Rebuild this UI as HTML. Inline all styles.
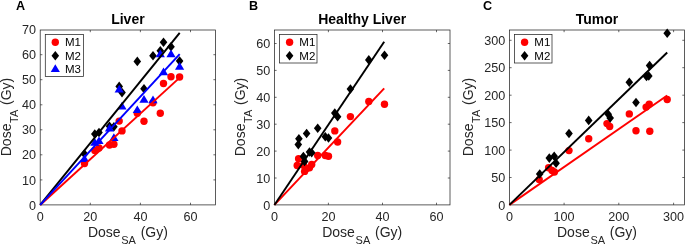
<!DOCTYPE html>
<html><head><meta charset="utf-8"><title>Dose plots</title>
<style>html,body{margin:0;padding:0;background:#fff}svg{display:block}text{font-family:'Liberation Sans', sans-serif}</style>
</head><body>
<svg width="685" height="245" viewBox="0 0 685 245">
<rect width="685" height="245" fill="#fff"/>
<g>
<text x="16.0" y="9.7" font-size="12.6" font-weight="bold" fill="#000">A</text>
<text x="127.9" y="24" font-size="14" font-weight="bold" text-anchor="middle" fill="#000">Liver</text>
<rect x="40.2" y="30.0" width="175.4" height="174.9" fill="none" stroke="#262626" stroke-width="0.75"/>
<text x="40.2" y="221.0" font-size="12.6" text-anchor="middle" fill="#262626">0</text>
<text x="90.3" y="221.0" font-size="12.6" text-anchor="middle" fill="#262626">20</text>
<text x="140.4" y="221.0" font-size="12.6" text-anchor="middle" fill="#262626">40</text>
<text x="190.5" y="221.0" font-size="12.6" text-anchor="middle" fill="#262626">60</text>
<text x="36.1" y="209.5" font-size="12.6" text-anchor="end" fill="#262626">0</text>
<text x="36.1" y="184.5" font-size="12.6" text-anchor="end" fill="#262626">10</text>
<text x="36.1" y="159.4" font-size="12.6" text-anchor="end" fill="#262626">20</text>
<text x="36.1" y="134.4" font-size="12.6" text-anchor="end" fill="#262626">30</text>
<text x="36.1" y="109.4" font-size="12.6" text-anchor="end" fill="#262626">40</text>
<text x="36.1" y="84.3" font-size="12.6" text-anchor="end" fill="#262626">50</text>
<text x="36.1" y="59.3" font-size="12.6" text-anchor="end" fill="#262626">60</text>
<text x="36.1" y="34.2" font-size="12.6" text-anchor="end" fill="#262626">70</text>
<path d="M90.3 204.92v-2.2M90.3 30.0v2.2M140.4 204.92v-2.2M140.4 30.0v2.2M190.5 204.92v-2.2M190.5 30.0v2.2M40.2 179.9h2.2M215.6 179.9h-2.2M40.2 154.8h2.2M215.6 154.8h-2.2M40.2 129.8h2.2M215.6 129.8h-2.2M40.2 104.8h2.2M215.6 104.8h-2.2M40.2 79.7h2.2M215.6 79.7h-2.2M40.2 54.7h2.2M215.6 54.7h-2.2" stroke="#262626" stroke-width="0.7" fill="none"/>
<text x="127.9" y="237.1" font-size="14" text-anchor="middle" fill="#262626">Dose<tspan font-size="11" dy="7" dx="0.7">SA</tspan><tspan dy="-7" dx="0.8"> (Gy)</tspan></text>
<text transform="translate(10.8 117.0) rotate(-90)" font-size="14" text-anchor="middle" fill="#262626">Dose<tspan font-size="11" dy="7" dx="0.7">TA</tspan><tspan dy="-7" dx="0.8"> (Gy)</tspan></text>
<circle cx="84.5" cy="163.5" r="3.7" fill="#ff0000"/>
<circle cx="94.8" cy="150.4" r="3.7" fill="#ff0000"/>
<circle cx="99.0" cy="148.0" r="3.7" fill="#ff0000"/>
<circle cx="109.5" cy="145.0" r="3.7" fill="#ff0000"/>
<circle cx="113.9" cy="144.3" r="3.7" fill="#ff0000"/>
<circle cx="119.2" cy="121.1" r="3.7" fill="#ff0000"/>
<circle cx="122.0" cy="130.9" r="3.7" fill="#ff0000"/>
<circle cx="137.3" cy="113.3" r="3.7" fill="#ff0000"/>
<circle cx="144.0" cy="121.3" r="3.7" fill="#ff0000"/>
<circle cx="153.0" cy="102.7" r="3.7" fill="#ff0000"/>
<circle cx="160.3" cy="113.3" r="3.7" fill="#ff0000"/>
<circle cx="163.5" cy="83.5" r="3.7" fill="#ff0000"/>
<circle cx="171.0" cy="76.7" r="3.7" fill="#ff0000"/>
<circle cx="179.6" cy="77.0" r="3.7" fill="#ff0000"/>
<polygon points="84.5,149.2 88.3,154.0 84.5,158.8 80.7,154.0" fill="#000"/>
<polygon points="94.8,129.2 98.6,134.0 94.8,138.8 91.0,134.0" fill="#000"/>
<polygon points="99.0,127.7 102.8,132.5 99.0,137.3 95.2,132.5" fill="#000"/>
<polygon points="109.5,121.5 113.3,126.3 109.5,131.1 105.7,126.3" fill="#000"/>
<polygon points="113.9,122.0 117.7,126.8 113.9,131.6 110.1,126.8" fill="#000"/>
<polygon points="119.2,81.6 123.0,86.4 119.2,91.2 115.4,86.4" fill="#000"/>
<polygon points="122.0,87.8 125.8,92.6 122.0,97.4 118.2,92.6" fill="#000"/>
<polygon points="137.3,56.6 141.1,61.4 137.3,66.2 133.5,61.4" fill="#000"/>
<polygon points="144.0,84.0 147.8,88.8 144.0,93.6 140.2,88.8" fill="#000"/>
<polygon points="153.0,50.9 156.8,55.7 153.0,60.5 149.2,55.7" fill="#000"/>
<polygon points="160.3,46.0 164.1,50.8 160.3,55.6 156.5,50.8" fill="#000"/>
<polygon points="163.5,37.4 167.3,42.2 163.5,47.0 159.7,42.2" fill="#000"/>
<polygon points="171.0,41.9 174.8,46.7 171.0,51.5 167.2,46.7" fill="#000"/>
<polygon points="179.6,56.2 183.4,61.0 179.6,65.8 175.8,61.0" fill="#000"/>
<polygon points="84.5,154.4 89.1,162.1 79.9,162.1" fill="#0000ff"/>
<polygon points="94.8,138.0 99.4,145.7 90.2,145.7" fill="#0000ff"/>
<polygon points="99.0,136.4 103.6,144.1 94.4,144.1" fill="#0000ff"/>
<polygon points="109.5,123.8 114.1,131.5 104.9,131.5" fill="#0000ff"/>
<polygon points="113.9,133.3 118.5,141.0 109.3,141.0" fill="#0000ff"/>
<polygon points="119.2,84.7 123.8,92.4 114.6,92.4" fill="#0000ff"/>
<polygon points="122.0,101.8 126.6,109.5 117.4,109.5" fill="#0000ff"/>
<polygon points="137.3,105.4 141.9,113.1 132.7,113.1" fill="#0000ff"/>
<polygon points="144.0,95.1 148.6,102.8 139.4,102.8" fill="#0000ff"/>
<polygon points="153.0,95.6 157.6,103.3 148.4,103.3" fill="#0000ff"/>
<polygon points="160.3,49.6 164.9,57.3 155.7,57.3" fill="#0000ff"/>
<polygon points="163.5,67.6 168.1,75.3 158.9,75.3" fill="#0000ff"/>
<polygon points="171.0,49.6 175.6,57.3 166.4,57.3" fill="#0000ff"/>
<polygon points="179.6,62.1 184.2,69.8 175.0,69.8" fill="#0000ff"/>
<line x1="40.2" y1="204.92" x2="179.7" y2="77.6" stroke="#ff0000" stroke-width="1.95"/>
<line x1="40.2" y1="204.92" x2="179.7" y2="32.8" stroke="#000" stroke-width="1.95"/>
<line x1="40.2" y1="204.92" x2="179.7" y2="54.2" stroke="#0000ff" stroke-width="1.95"/>
<rect x="45.3" y="34.6" width="38.3" height="41.8" fill="#fff" stroke="#262626" stroke-width="0.75"/>
<circle cx="55.3" cy="42.2" r="3.7" fill="#ff0000"/>
<text x="65.0" y="46.2" font-size="11.5" fill="#000">M1</text>
<polygon points="55.3,50.9 59.1,55.7 55.3,60.5 51.5,55.7" fill="#000"/>
<text x="65.0" y="59.7" font-size="11.5" fill="#000">M2</text>
<polygon points="55.3,64.3 59.9,72.0 50.7,72.0" fill="#0000ff"/>
<text x="65.0" y="73.1" font-size="11.5" fill="#000">M3</text>
</g>
<g>
<text x="249.0" y="9.7" font-size="12.6" font-weight="bold" fill="#000">B</text>
<text x="362.2" y="24" font-size="14" font-weight="bold" text-anchor="middle" fill="#000">Healthy Liver</text>
<rect x="274.4" y="30.0" width="175.6" height="174.9" fill="none" stroke="#262626" stroke-width="0.75"/>
<text x="274.4" y="221.0" font-size="12.6" text-anchor="middle" fill="#262626">0</text>
<text x="328.4" y="221.0" font-size="12.6" text-anchor="middle" fill="#262626">20</text>
<text x="382.5" y="221.0" font-size="12.6" text-anchor="middle" fill="#262626">40</text>
<text x="436.5" y="221.0" font-size="12.6" text-anchor="middle" fill="#262626">60</text>
<text x="270.3" y="209.5" font-size="12.6" text-anchor="end" fill="#262626">0</text>
<text x="270.3" y="182.6" font-size="12.6" text-anchor="end" fill="#262626">10</text>
<text x="270.3" y="155.7" font-size="12.6" text-anchor="end" fill="#262626">20</text>
<text x="270.3" y="128.8" font-size="12.6" text-anchor="end" fill="#262626">30</text>
<text x="270.3" y="101.9" font-size="12.6" text-anchor="end" fill="#262626">40</text>
<text x="270.3" y="75.0" font-size="12.6" text-anchor="end" fill="#262626">50</text>
<text x="270.3" y="48.1" font-size="12.6" text-anchor="end" fill="#262626">60</text>
<path d="M328.4 204.92v-2.2M328.4 30.0v2.2M382.5 204.92v-2.2M382.5 30.0v2.2M436.5 204.92v-2.2M436.5 30.0v2.2M274.4 178.0h2.2M450.0 178.0h-2.2M274.4 151.1h2.2M450.0 151.1h-2.2M274.4 124.2h2.2M450.0 124.2h-2.2M274.4 97.3h2.2M450.0 97.3h-2.2M274.4 70.4h2.2M450.0 70.4h-2.2M274.4 43.5h2.2M450.0 43.5h-2.2" stroke="#262626" stroke-width="0.7" fill="none"/>
<text x="362.2" y="237.1" font-size="14" text-anchor="middle" fill="#262626">Dose<tspan font-size="11" dy="7" dx="0.7">SA</tspan><tspan dy="-7" dx="0.8"> (Gy)</tspan></text>
<text transform="translate(245.0 117.0) rotate(-90)" font-size="14" text-anchor="middle" fill="#262626">Dose<tspan font-size="11" dy="7" dx="0.7">TA</tspan><tspan dy="-7" dx="0.8"> (Gy)</tspan></text>
<circle cx="297.2" cy="165.5" r="3.7" fill="#ff0000"/>
<circle cx="298.6" cy="158.8" r="3.7" fill="#ff0000"/>
<circle cx="303.4" cy="165.3" r="3.7" fill="#ff0000"/>
<circle cx="304.6" cy="171.4" r="3.7" fill="#ff0000"/>
<circle cx="306.6" cy="168.6" r="3.7" fill="#ff0000"/>
<circle cx="309.5" cy="167.8" r="3.7" fill="#ff0000"/>
<circle cx="311.7" cy="164.5" r="3.7" fill="#ff0000"/>
<circle cx="317.7" cy="155.5" r="3.7" fill="#ff0000"/>
<circle cx="325.3" cy="155.5" r="3.7" fill="#ff0000"/>
<circle cx="328.5" cy="156.2" r="3.7" fill="#ff0000"/>
<circle cx="334.8" cy="130.9" r="3.7" fill="#ff0000"/>
<circle cx="337.6" cy="142.0" r="3.7" fill="#ff0000"/>
<circle cx="350.4" cy="116.6" r="3.7" fill="#ff0000"/>
<circle cx="368.8" cy="101.4" r="3.7" fill="#ff0000"/>
<circle cx="384.5" cy="104.3" r="3.7" fill="#ff0000"/>
<polygon points="298.3,139.8 302.1,144.6 298.3,149.4 294.5,144.6" fill="#000"/>
<polygon points="298.9,134.0 302.7,138.8 298.9,143.6 295.1,138.8" fill="#000"/>
<polygon points="303.4,151.7 307.2,156.5 303.4,161.3 299.6,156.5" fill="#000"/>
<polygon points="304.6,156.6 308.4,161.4 304.6,166.2 300.8,161.4" fill="#000"/>
<polygon points="306.6,128.7 310.4,133.5 306.6,138.3 302.8,133.5" fill="#000"/>
<polygon points="309.5,147.2 313.3,152.0 309.5,156.8 305.7,152.0" fill="#000"/>
<polygon points="311.7,147.9 315.5,152.7 311.7,157.5 307.9,152.7" fill="#000"/>
<polygon points="317.7,123.5 321.5,128.3 317.7,133.1 313.9,128.3" fill="#000"/>
<polygon points="325.3,131.9 329.1,136.7 325.3,141.5 321.5,136.7" fill="#000"/>
<polygon points="328.5,133.2 332.3,138.0 328.5,142.8 324.7,138.0" fill="#000"/>
<polygon points="334.8,108.3 338.6,113.1 334.8,117.9 331.0,113.1" fill="#000"/>
<polygon points="337.6,111.9 341.4,116.7 337.6,121.5 333.8,116.7" fill="#000"/>
<polygon points="350.4,84.2 354.2,89.0 350.4,93.8 346.6,89.0" fill="#000"/>
<polygon points="368.8,55.1 372.6,59.9 368.8,64.7 365.0,59.9" fill="#000"/>
<polygon points="384.5,50.4 388.3,55.2 384.5,60.0 380.7,55.2" fill="#000"/>
<line x1="274.4" y1="204.92" x2="384.2" y2="88.4" stroke="#ff0000" stroke-width="1.95"/>
<line x1="274.4" y1="204.92" x2="384.2" y2="41.8" stroke="#000" stroke-width="1.95"/>
<rect x="279.6" y="34.6" width="37.4" height="28.4" fill="#fff" stroke="#262626" stroke-width="0.75"/>
<circle cx="289.6" cy="42.2" r="3.7" fill="#ff0000"/>
<text x="299.3" y="46.2" font-size="11.5" fill="#000">M1</text>
<polygon points="289.6,50.9 293.4,55.7 289.6,60.5 285.8,55.7" fill="#000"/>
<text x="299.3" y="59.7" font-size="11.5" fill="#000">M2</text>
</g>
<g>
<text x="483.0" y="9.7" font-size="12.6" font-weight="bold" fill="#000">C</text>
<text x="597.0" y="24" font-size="14" font-weight="bold" text-anchor="middle" fill="#000">Tumor</text>
<rect x="509.4" y="30.0" width="175.1" height="174.9" fill="none" stroke="#262626" stroke-width="0.75"/>
<text x="509.4" y="221.0" font-size="12.6" text-anchor="middle" fill="#262626">0</text>
<text x="564.1" y="221.0" font-size="12.6" text-anchor="middle" fill="#262626">100</text>
<text x="618.8" y="221.0" font-size="12.6" text-anchor="middle" fill="#262626">200</text>
<text x="673.6" y="221.0" font-size="12.6" text-anchor="middle" fill="#262626">300</text>
<text x="505.3" y="209.5" font-size="12.6" text-anchor="end" fill="#262626">0</text>
<text x="505.3" y="182.1" font-size="12.6" text-anchor="end" fill="#262626">50</text>
<text x="505.3" y="154.7" font-size="12.6" text-anchor="end" fill="#262626">100</text>
<text x="505.3" y="127.2" font-size="12.6" text-anchor="end" fill="#262626">150</text>
<text x="505.3" y="99.8" font-size="12.6" text-anchor="end" fill="#262626">200</text>
<text x="505.3" y="72.3" font-size="12.6" text-anchor="end" fill="#262626">250</text>
<text x="505.3" y="44.9" font-size="12.6" text-anchor="end" fill="#262626">300</text>
<path d="M564.1 204.92v-2.2M564.1 30.0v2.2M618.8 204.92v-2.2M618.8 30.0v2.2M673.6 204.92v-2.2M673.6 30.0v2.2M509.4 177.5h2.2M684.5 177.5h-2.2M509.4 150.1h2.2M684.5 150.1h-2.2M509.4 122.6h2.2M684.5 122.6h-2.2M509.4 95.2h2.2M684.5 95.2h-2.2M509.4 67.7h2.2M684.5 67.7h-2.2M509.4 40.3h2.2M684.5 40.3h-2.2" stroke="#262626" stroke-width="0.7" fill="none"/>
<text x="597.0" y="237.1" font-size="14" text-anchor="middle" fill="#262626">Dose<tspan font-size="11" dy="7" dx="0.7">SA</tspan><tspan dy="-7" dx="0.8"> (Gy)</tspan></text>
<text transform="translate(472.9 117.0) rotate(-90)" font-size="14" text-anchor="middle" fill="#262626">Dose<tspan font-size="11" dy="7" dx="0.7">TA</tspan><tspan dy="-7" dx="0.8"> (Gy)</tspan></text>
<circle cx="539.2" cy="179.6" r="3.7" fill="#ff0000"/>
<circle cx="548.6" cy="167.8" r="3.7" fill="#ff0000"/>
<circle cx="552.0" cy="170.5" r="3.7" fill="#ff0000"/>
<circle cx="554.4" cy="172.0" r="3.7" fill="#ff0000"/>
<circle cx="569.0" cy="150.6" r="3.7" fill="#ff0000"/>
<circle cx="588.7" cy="138.8" r="3.7" fill="#ff0000"/>
<circle cx="607.0" cy="123.6" r="3.7" fill="#ff0000"/>
<circle cx="609.7" cy="126.5" r="3.7" fill="#ff0000"/>
<circle cx="629.3" cy="113.9" r="3.7" fill="#ff0000"/>
<circle cx="636.0" cy="130.7" r="3.7" fill="#ff0000"/>
<circle cx="646.1" cy="107.1" r="3.7" fill="#ff0000"/>
<circle cx="649.2" cy="104.1" r="3.7" fill="#ff0000"/>
<circle cx="649.8" cy="131.3" r="3.7" fill="#ff0000"/>
<circle cx="667.2" cy="99.5" r="3.7" fill="#ff0000"/>
<polygon points="539.7,169.2 543.5,174.0 539.7,178.8 535.9,174.0" fill="#000"/>
<polygon points="549.3,153.3 553.1,158.1 549.3,162.9 545.5,158.1" fill="#000"/>
<polygon points="554.2,151.5 558.0,156.3 554.2,161.1 550.4,156.3" fill="#000"/>
<polygon points="556.1,158.5 559.9,163.3 556.1,168.1 552.3,163.3" fill="#000"/>
<polygon points="569.0,128.7 572.8,133.5 569.0,138.3 565.2,133.5" fill="#000"/>
<polygon points="588.7,115.6 592.5,120.4 588.7,125.2 584.9,120.4" fill="#000"/>
<polygon points="608.2,109.5 612.0,114.3 608.2,119.1 604.4,114.3" fill="#000"/>
<polygon points="610.2,113.2 614.0,118.0 610.2,122.8 606.4,118.0" fill="#000"/>
<polygon points="629.3,77.4 633.1,82.2 629.3,87.0 625.5,82.2" fill="#000"/>
<polygon points="636.0,97.7 639.8,102.5 636.0,107.3 632.2,102.5" fill="#000"/>
<polygon points="646.5,71.6 650.3,76.4 646.5,81.2 642.7,76.4" fill="#000"/>
<polygon points="648.8,71.2 652.6,76.0 648.8,80.8 645.0,76.0" fill="#000"/>
<polygon points="649.6,60.8 653.4,65.6 649.6,70.4 645.8,65.6" fill="#000"/>
<polygon points="667.2,28.5 671.0,33.3 667.2,38.1 663.4,33.3" fill="#000"/>
<line x1="509.4" y1="204.92" x2="667.2" y2="95.5" stroke="#ff0000" stroke-width="1.95"/>
<line x1="509.4" y1="204.92" x2="667.2" y2="52.5" stroke="#000" stroke-width="1.95"/>
<rect x="514.6" y="34.6" width="37.4" height="28.4" fill="#fff" stroke="#262626" stroke-width="0.75"/>
<circle cx="524.6" cy="42.2" r="3.7" fill="#ff0000"/>
<text x="534.3" y="46.2" font-size="11.5" fill="#000">M1</text>
<polygon points="524.6,50.9 528.4,55.7 524.6,60.5 520.8,55.7" fill="#000"/>
<text x="534.3" y="59.7" font-size="11.5" fill="#000">M2</text>
</g>
</svg>
</body></html>
